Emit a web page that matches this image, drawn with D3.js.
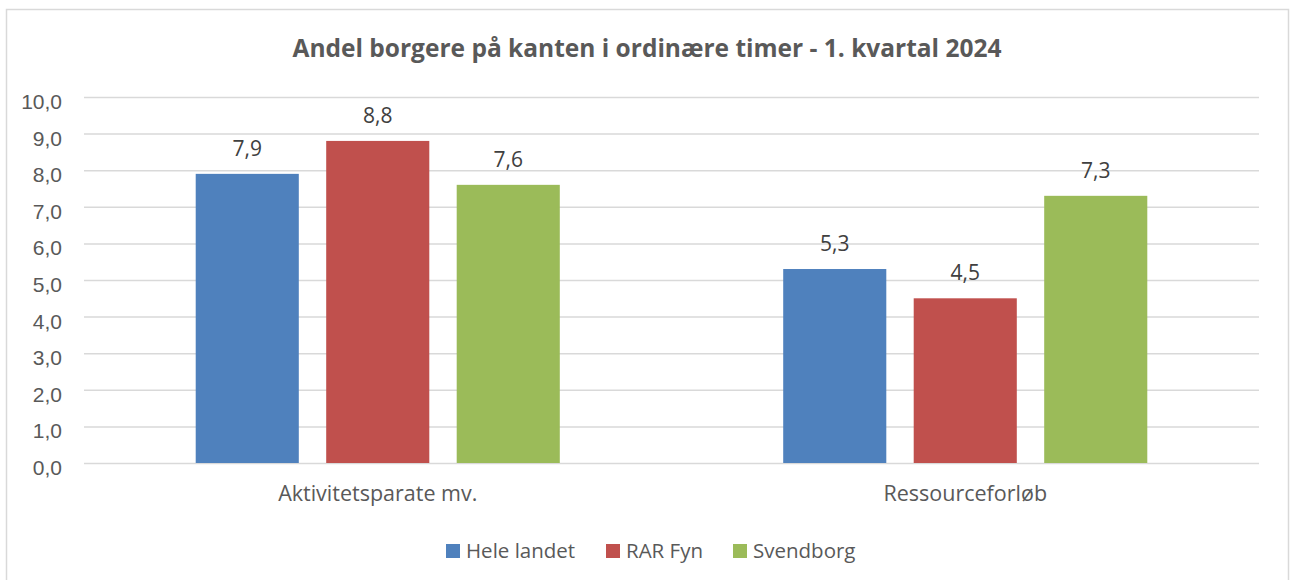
<!DOCTYPE html>
<html>
<head>
<meta charset="utf-8">
<script src="https://cdn.jsdelivr.net/npm/d3@7"></script>
<style>
  body { margin: 0; background: #fff; }
  svg { display: block; font-family: "Open Sans", Lato, sans-serif; }
</style>
</head>
<body>
<script>
// data
var categories = ['Aktivitetsparate mv.', 'Ressourceforløb'];
var series = ['Hele landet', 'RAR Fyn', 'Svendborg'];
var hele = [7.9, 5.3];
var rar = [8.8, 4.5];
var svendborg = [7.6, 7.3];
var yTicks = [0, 1, 2, 3, 4, 5, 6, 7, 8, 9, 10];
var colors = ['#4f81bd', '#c0504d', '#9bbb59'];

var values = [hele, rar, svendborg];

var width = 1292, height = 580;
var margin = { left: 84, right: 33, top: 97, bottom: 117 };

var fmt = function(v) { return d3.format('.1f')(v).replace('.', ','); };

var svg = d3.select('body').append('svg')
	.attr('width', width)
	.attr('height', height);

// chart frame
svg.append('rect')
	.attr('x', 6.5).attr('y', 9.5)
	.attr('width', 1282).attr('height', 580)
	.attr('fill', '#fff')
	.attr('stroke', '#d9d9d9')
	.attr('stroke-width', 1.5);

// title
svg.append('text')
	.attr('x', 647).attr('y', 57)
	.attr('text-anchor', 'middle')
	.attr('fill', '#595959')
	.style('font-size', '24.5px')
	.style('font-weight', 'bold')
	.text('Andel borgere på kanten i ordinære timer - 1. kvartal 2024');

var x0 = d3.scaleBand()
	.domain(categories)
	.range([margin.left, width - margin.right]);

var x1 = d3.scaleBand()
	.domain(series)
	.range([0, x0.bandwidth()])
	.paddingInner(0.21)
	.paddingOuter(0.856);

var y = d3.scaleLinear()
	.domain([0, 10])
	.range([height - margin.bottom, margin.top]);

// gridlines + y labels
var yAxis = svg.append('g')
	.attr('transform', 'translate(' + margin.left + ',0)')
	.call(d3.axisLeft(y)
		.tickValues(yTicks)
		.tickSize(-(width - margin.left - margin.right))
		.tickPadding(22)
		.tickFormat(fmt));

yAxis.select('.domain').remove();
yAxis.selectAll('.tick line')
	.attr('stroke', '#d9d9d9')
	.attr('stroke-width', 1.5);
yAxis.selectAll('.tick text')
	.attr('fill', '#595959')
	.attr('dy', '0.55em')
	.style('font-size', '21px');

// bars
var groups = svg.selectAll('.grp')
	.data(categories)
	.enter().append('g')
	.attr('class', 'grp')
	.attr('transform', function(d) { return 'translate(' + x0(d) + ',0)'; });

var cells = function(c, ci) {
	return series.map(function(s, si) { return { s: s, v: values[si][ci], i: si }; });
};

groups.selectAll('rect')
	.data(cells)
	.enter().append('rect')
	.attr('x', function(d) { return x1(d.s); })
	.attr('y', function(d) { return y(d.v); })
	.attr('width', x1.bandwidth())
	.attr('height', function(d) { return y(0) - y(d.v); })
	.attr('fill', function(d) { return colors[d.i]; });

groups.selectAll('.lbl')
	.data(cells)
	.enter().append('text')
	.attr('class', 'lbl')
	.attr('x', function(d) { return x1(d.s) + x1.bandwidth() / 2; })
	.attr('y', function(d) { return y(d.v) - 18; })
	.attr('text-anchor', 'middle')
	.attr('fill', '#404040')
	.style('font-size', '21px')
	.text(function(d) { return fmt(d.v); });

// category labels
svg.selectAll('.cat')
	.data(categories)
	.enter().append('text')
	.attr('class', 'cat')
	.attr('x', function(d) { return x0(d) + x0.bandwidth() / 2; })
	.attr('y', 501)
	.attr('text-anchor', 'middle')
	.attr('fill', '#595959')
	.style('font-size', '21.5px')
	.text(function(d) { return d; });

// legend
var legendX = [446, 606, 733];
var legend = svg.selectAll('.leg')
	.data(series)
	.enter().append('g')
	.attr('class', 'leg')
	.attr('transform', function(d, i) { return 'translate(' + legendX[i] + ',544)'; });

legend.append('rect')
	.attr('width', 14).attr('height', 14)
	.attr('fill', function(d, i) { return colors[i]; });

legend.append('text')
	.attr('x', 20).attr('y', 14)
	.attr('fill', '#595959')
	.style('font-size', '20.5px')
	.text(function(d) { return d; });
</script>
</body>
</html>
